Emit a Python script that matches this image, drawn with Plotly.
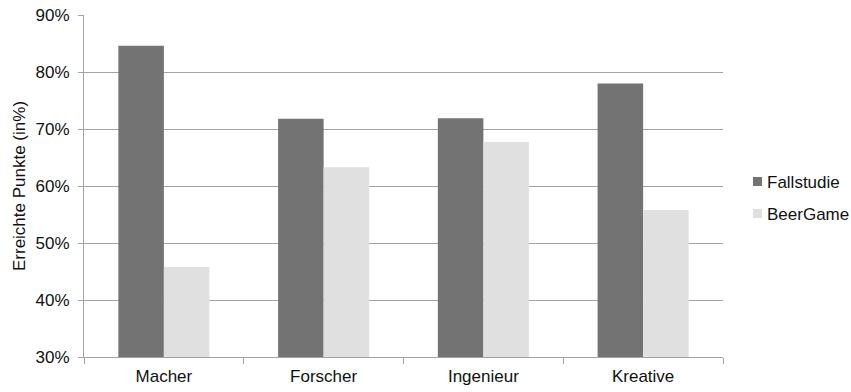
import plotly.graph_objects as go

categories = ["Macher", "Forscher", "Ingenieur", "Kreative"]
fallstudie = [84.6, 71.8, 71.9, 78.0]
beergame = [45.8, 63.3, 67.7, 55.8]
y_ticks = [30, 40, 50, 60, 70, 80, 90]
y_tick_labels = [f"{v}%" for v in y_ticks]

series_names = ["Fallstudie", "BeerGame"]
series_colors = ["#737373", "#e0e0e0"]

font_family = "Liberation Sans, Arial, sans-serif"
text_color = "#111111"
axis_color = "#a3a3a3"

# plot area in pixels (used to place the side legend in paper units)
W, H = 851, 392
L, R, T, B = 84, 128, 15, 35
pw, ph = W - L - R, H - T - B


def px_x(x):
    return (x - L) / pw


def px_y(y):
    return (H - B - y) / ph


fig = go.Figure()
for name, vals, color in zip(series_names, [fallstudie, beergame], series_colors):
    fig.add_trace(go.Bar(
        x=categories, y=vals, name=name,
        marker=dict(color=color, line=dict(width=0)),
    ))

fig.update_layout(
    width=W, height=H,
    margin=dict(l=L, r=R, t=T, b=B, autoexpand=False),
    paper_bgcolor="white", plot_bgcolor="white",
    barmode="group", bargap=0.43, bargroupgap=0,
    font=dict(family=font_family, size=17, color=text_color),
    showlegend=False,
)

# side legend: small colour square + series name
legend_rows = [181.5, 213.5]
for name, color, yc in zip(series_names, series_colors, legend_rows):
    fig.add_shape(
        type="rect", xref="paper", yref="paper",
        x0=px_x(753), x1=px_x(762), y0=px_y(yc + 4.5), y1=px_y(yc - 4.5),
        fillcolor=color, line=dict(width=0),
    )
    fig.add_annotation(
        xref="paper", yref="paper", x=px_x(765), y=px_y(yc + 1),
        xanchor="left", yanchor="middle", showarrow=False,
        text=name, font=dict(size=17, color=text_color),
    )

fig.update_xaxes(
    type="category",
    showline=True, linecolor=axis_color, linewidth=1,
    ticks="outside", tickson="boundaries", ticklen=6, tickcolor=axis_color,
    showgrid=False,
    tickfont=dict(size=17, color=text_color),
    ticklabelstandoff=4,
)
fig.update_yaxes(
    range=[30, 90],
    tickvals=y_ticks, ticktext=y_tick_labels,
    showline=True, linecolor=axis_color, linewidth=1,
    ticks="outside", ticklen=5, tickcolor=axis_color,
    showgrid=True, gridcolor=axis_color, gridwidth=1,
    zeroline=False,
    tickfont=dict(size=17, color=text_color),
    ticklabelstandoff=5,
    title=dict(text="Erreichte Punkte (in%)", font=dict(size=17, color=text_color), standoff=5),
)

fig.write_html("out.html")
